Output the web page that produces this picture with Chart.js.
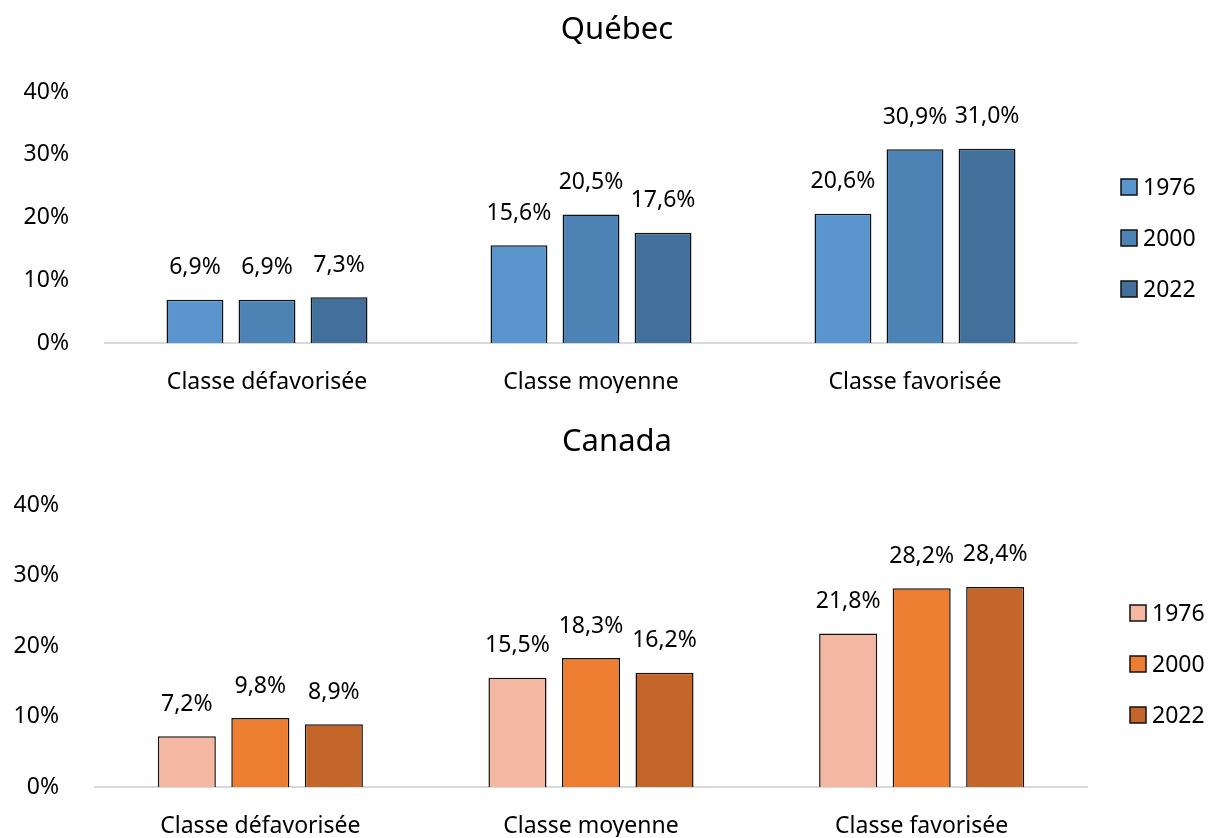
<!DOCTYPE html>
<html>
<head>
<meta charset="utf-8">
<script src="https://cdn.jsdelivr.net/npm/chart.js@4/dist/chart.umd.min.js"></script>
<style>
  html, body { margin: 0; padding: 0; background: #fff; overflow: hidden; }
  #top { position: absolute; left: 0; top: 0; width: 1210px; height: 419px; }
  #bottom { position: absolute; left: -12px; top: 419px; width: 1234px; height: 445px; }
</style>
</head>
<body>
<div id="top"><canvas id="quebecCanvas"></canvas></div>
<div id="bottom"><canvas id="canadaCanvas"></canvas></div>
<script>
var categories = ['Classe défavorisée', 'Classe moyenne', 'Classe favorisée'];
var years = ['1976', '2000', '2022'];
var yTicks = [0, 10, 20, 30, 40];

var quebec1976 = [6.9, 15.6, 20.6];
var quebec2000 = [6.9, 20.5, 30.9];
var quebec2022 = [7.3, 17.6, 31.0];

var canada1976 = [7.2, 15.5, 21.8];
var canada2000 = [9.8, 18.3, 28.2];
var canada2022 = [8.9, 16.2, 28.4];

var FONT = '"Noto Sans"';
var SIZE = 23;

// draws the value above each bar, french decimal comma
var valueLabels = {
    id: 'valueLabels',
    afterDatasetsDraw: function(chart){
        var ctx = chart.ctx;
        ctx.save();
        ctx.font = SIZE + 'px ' + FONT;
        ctx.fillStyle = '#000';
        ctx.textAlign = 'center';
        ctx.textBaseline = 'middle';
        chart.data.datasets.forEach(function(ds, i){
            chart.getDatasetMeta(i).data.forEach(function(bar, j){
                var txt = ds.data[j].toFixed(1).replace('.', ',') + '%';
                ctx.fillText(txt, bar.x, bar.y - 32);
            });
        });
        ctx.restore();
    }
};

// legend drawn by hand so it sits where the original one is
var sideLegend = {
    id: 'sideLegend',
    afterDraw: function(chart, args, opts){
        var ctx = chart.ctx;
        ctx.save();
        ctx.font = SIZE + 'px ' + FONT;
        ctx.textBaseline = 'middle';
        ctx.textAlign = 'left';
        chart.data.datasets.forEach(function(ds, i){
            var y = opts.y + i * opts.step;
            ctx.fillStyle = ds.backgroundColor;
            ctx.fillRect(opts.x, y - 8, 16, 16);
            ctx.strokeStyle = '#111';
            ctx.lineWidth = 1.5;
            ctx.strokeRect(opts.x, y - 8, 16, 16);
            ctx.fillStyle = '#000';
            ctx.fillText(ds.label, opts.x + 22, y + 1);
        });
        ctx.restore();
    }
};

function loadChart(id, title, series, colors, lay){
    var ctx = document.getElementById(id).getContext('2d');
    var data = {
        labels: categories,
        datasets: series.map(function(s, i){
            return {
                label: years[i],
                data: s,
                backgroundColor: colors[i],
                borderColor: '#111',
                borderWidth: 1.5,
                categoryPercentage: 0.667,
                barPercentage: 0.79
            };
        })
    };
    return new Chart(ctx, {
        type: 'bar',
        data: data,
        options: {
            responsive: true,
            maintainAspectRatio: false,
            animation: false,
            layout: { padding: { left: 24, right: 0, top: lay.top, bottom: lay.bottom } },
            plugins: {
                title: {
                    display: true,
                    text: title,
                    color: '#000',
                    font: { family: FONT, size: 31, weight: 'normal' },
                    padding: { top: 0, bottom: lay.titleGap }
                },
                legend: { display: false },
                tooltip: { enabled: false },
                sideLegend: lay.legend
            },
            scales: {
                x: {
                    grid: { display: false },
                    border: { color: '#d9d9d9', width: 2 },
                    ticks: { color: '#000', font: { family: FONT, size: SIZE }, padding: 18 },
                    afterFit: function(axis){ axis.height = 50; }
                },
                y: {
                    min: 0,
                    max: 40,
                    afterBuildTicks: function(axis){
                        axis.ticks = yTicks.map(function(v){ return { value: v }; });
                    },
                    grid: { display: false },
                    border: { display: false },
                    ticks: {
                        color: '#000',
                        font: { family: FONT, size: SIZE },
                        padding: 28,
                        callback: function(v){ return v + '%'; }
                    },
                    afterFit: function(axis){ axis.width = lay.left - 24; }
                },
                // empty right-hand axis that keeps room for the legend
                legendSpace: {
                    type: 'linear',
                    position: 'right',
                    grid: { display: false },
                    border: { display: false },
                    ticks: { display: false },
                    afterFit: function(axis){ axis.width = lay.right; }
                }
            }
        },
        plugins: [valueLabels, sideLegend]
    });
}

loadChart('quebecCanvas', 'Québec',
    [quebec1976, quebec2000, quebec2022],
    ['#5a96cd', '#4d82b4', '#43709b'],
    { left: 105, right: 133, top: 12, bottom: 26, titleGap: 43,
      legend: { x: 1121, y: 187, step: 51 } });

// this canvas is shifted 12px left so its y labels fit
loadChart('canadaCanvas', 'Canada',
    [canada1976, canada2000, canada2022],
    ['#f4b7a2', '#ed7d31', '#c4652a'],
    { left: 107, right: 135, top: 5, bottom: 27, titleGap: 44,
      legend: { x: 1142, y: 194, step: 51 } });
</script>
</body>
</html>
